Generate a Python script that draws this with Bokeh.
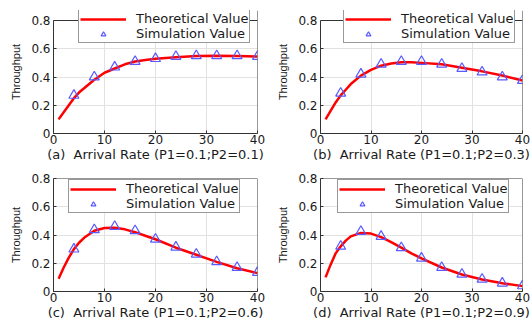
from bokeh.plotting import figure
from bokeh.layouts import column, row
from bokeh.models import Legend, LegendItem, Span
from bokeh.embed import file_html
from bokeh.resources import INLINE

# ---- data ----
x_theory = [1, 2, 3, 4, 5, 6, 8, 10, 12, 14, 16, 18, 20, 24, 28, 32, 36, 40]
x_sim = [4, 8, 12, 16, 20, 24, 28, 32, 36, 40]

theory_a = [0.10, 0.15, 0.20, 0.25, 0.29, 0.32, 0.38, 0.43, 0.46, 0.49, 0.51, 0.52, 0.53, 0.54, 0.548, 0.55, 0.548, 0.545]
sim_a = [0.27, 0.40, 0.47, 0.51, 0.53, 0.545, 0.55, 0.55, 0.55, 0.545]

theory_b = [0.10, 0.16, 0.22, 0.27, 0.31, 0.35, 0.41, 0.45, 0.48, 0.495, 0.505, 0.505, 0.50, 0.49, 0.465, 0.44, 0.41, 0.375]
sim_b = [0.285, 0.42, 0.49, 0.51, 0.51, 0.49, 0.46, 0.435, 0.40, 0.375]

theory_c = [0.09, 0.17, 0.24, 0.30, 0.345, 0.38, 0.43, 0.45, 0.452, 0.44, 0.42, 0.395, 0.37, 0.31, 0.26, 0.21, 0.165, 0.13]
sim_c = [0.30, 0.437, 0.46, 0.43, 0.37, 0.314, 0.264, 0.21, 0.17, 0.135]

theory_d = [0.10, 0.19, 0.27, 0.32, 0.36, 0.39, 0.415, 0.41, 0.385, 0.35, 0.31, 0.27, 0.235, 0.17, 0.12, 0.085, 0.058, 0.038]
sim_d = [0.32, 0.425, 0.39, 0.31, 0.236, 0.17, 0.122, 0.087, 0.059, 0.04]

x_ticks = [0, 10, 20, 30, 40]
y_ticks = [0, 0.2, 0.4, 0.6, 0.8]

xlabels = [
    "(a) \u00a0Arrival Rate (P1=0.1;P2=0.1)",
    "(b) \u00a0Arrival Rate (P1=0.1;P2=0.3)",
    "(c) \u00a0Arrival Rate (P1=0.1;P2=0.6)",
    "(d) \u00a0Arrival Rate (P1=0.1;P2=0.9)",
]
ylabel = "Throughput"
legend_labels = ["Theoretical Value", "Simulation Value"]

TEXT = "#1a1a1a"
FONT = "DejaVu Sans"
EDGE = "#333333"


def style_axis(ax):
    ax.axis_line_color = EDGE
    ax.major_tick_line_color = EDGE
    ax.major_tick_in = 3
    ax.major_tick_out = 0
    ax.minor_tick_line_color = None
    ax.major_label_text_font = FONT
    ax.major_label_text_font_size = "12px"
    ax.major_label_text_color = TEXT
    ax.axis_label_text_font_style = "normal"
    ax.axis_label_text_color = TEXT


def make(theory, sim, xlabel, bl, br, bt, bb, fw, extra_top, leg_loc):
    # frame is extended upward by `extra_top` px so the legend may stick out above the 0.8 box line
    box_h = 113
    y_end = y_ticks[-1] * (box_h + extra_top) / box_h
    p = figure(frame_width=fw, frame_height=box_h + extra_top, x_range=(0, 40), y_range=(0, y_end),
               output_backend="svg", toolbar_location=None,
               min_border_left=bl, min_border_right=br, min_border_top=bt, min_border_bottom=bb)
    p.background_fill_color = "white"
    p.border_fill_color = "white"
    p.outline_line_color = None

    p.xaxis.ticker = x_ticks
    p.yaxis.ticker = y_ticks
    p.yaxis.bounds = (y_ticks[0], y_ticks[-1])
    p.yaxis.major_label_overrides = {0: "0"}
    style_axis(p.xaxis[0])
    style_axis(p.yaxis[0])
    p.xaxis.major_label_standoff = 1
    p.yaxis.major_label_standoff = 3
    p.xaxis.axis_label = xlabel
    p.xaxis.axis_label_text_font = FONT
    p.xaxis.axis_label_text_font_size = "13px"
    p.xaxis.axis_label_standoff = 0
    p.yaxis.axis_label = ylabel
    p.yaxis.axis_label_text_font = "Liberation Sans"
    p.yaxis.axis_label_text_font_size = "11px"
    p.yaxis.axis_label_standoff = 6

    p.xgrid.ticker = x_ticks
    p.ygrid.ticker = y_ticks
    p.grid.grid_line_color = "#e2e2e2"
    p.grid.grid_line_width = 1

    ln = p.line(x_theory, theory, line_color="#ff0000", line_width=2.5)
    sc = p.scatter(x_sim, sim, marker="triangle", size=10, fill_color=None,
                   line_color="#5a5aff", line_width=1.2)

    # box edges: top at last y tick, right at last x tick
    p.add_layout(Span(location=y_ticks[-1], dimension="width", line_color=EDGE, line_width=1))
    p.add_layout(Span(location=x_ticks[-1], dimension="height", line_color=EDGE, line_width=1))

    leg = Legend(items=[LegendItem(label=legend_labels[0], renderers=[ln]),
                        LegendItem(label=legend_labels[1], renderers=[sc])],
                 location=leg_loc)
    leg.label_text_font = FONT
    leg.label_text_font_size = "13px"
    leg.label_text_line_height = 1.0
    leg.label_text_color = TEXT
    leg.glyph_width = 46
    leg.glyph_height = 12
    leg.label_height = 12
    leg.label_standoff = 10
    leg.padding = 1
    leg.spacing = 0
    leg.margin = 0
    leg.border_line_color = EDGE
    leg.border_line_width = 1
    leg.background_fill_color = "white"
    leg.background_fill_alpha = 1
    p.add_layout(leg, "center")
    return p


pa = make(theory_a, sim_a, xlabels[0], 53, 8, 10, 30, 204, 10, (25, 90))
pb = make(theory_b, sim_b, xlabels[1], 55, 9, 10, 30, 202, 10, (23, 90))
pc = make(theory_c, sim_c, xlabels[2], 53, 8, 14, 35, 204, 0, (15, 78))
pd = make(theory_d, sim_d, xlabels[3], 55, 9, 14, 35, 202, 0, (17, 78))

layout = column(row(pa, pb, spacing=0), row(pc, pd, spacing=0), spacing=0)

open("out.html", "w").write(file_html(layout, INLINE))
